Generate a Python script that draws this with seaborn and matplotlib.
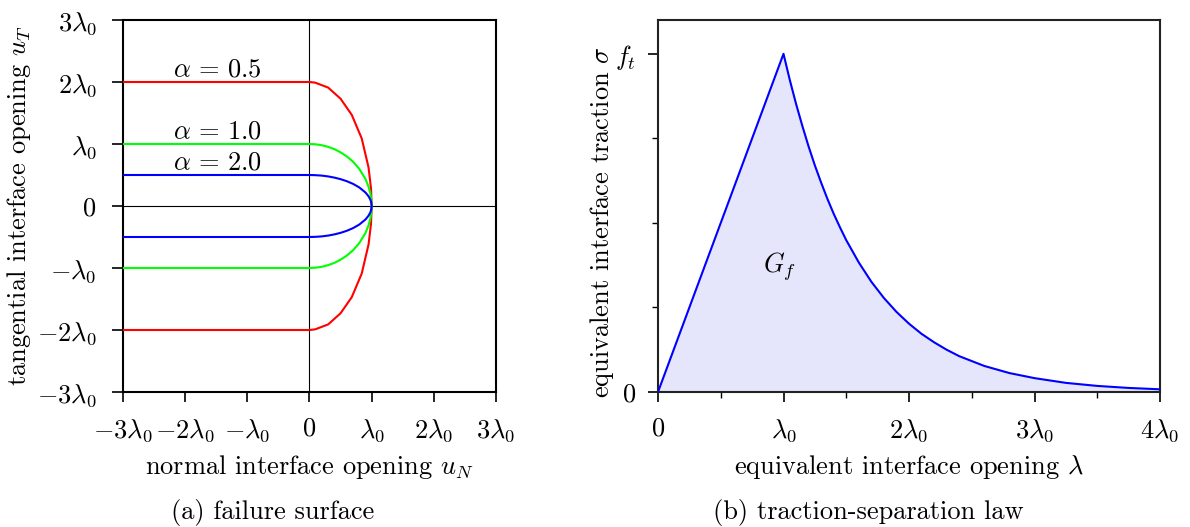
import numpy as np
import matplotlib
matplotlib.use("Agg")
import matplotlib.pyplot as plt
import seaborn as sns
from matplotlib.ticker import FixedLocator

# ---------------- data ----------------
# (a) failure surface: upper half of each curve for u_N >= 0, in units of lambda_0
alphas = ["0.5", "1.0", "2.0"]
colors = ["#ff0000", "#00ff00", "#0000ff"]
un_red = [0.0, 0.09, 0.30, 0.50, 0.68, 0.84, 0.95, 0.99, 1.0]
ut_red = [2.0, 1.99, 1.91, 1.73, 1.47, 1.09, 0.62, 0.28, 0.0]
un_green = [0.0, 0.1, 0.2, 0.3, 0.4, 0.5, 0.6, 0.7, 0.8, 0.9, 0.95, 0.98, 0.995, 1.0]
ut_green = [1.0, 0.995, 0.98, 0.954, 0.917, 0.866, 0.80, 0.714, 0.60, 0.436, 0.312, 0.199, 0.10, 0.0]
un_blue = [0.0, 0.1, 0.2, 0.3, 0.4, 0.5, 0.6, 0.7, 0.8, 0.9, 0.95, 0.98, 0.995, 1.0]
ut_blue = [0.5, 0.497, 0.49, 0.477, 0.458, 0.433, 0.40, 0.357, 0.30, 0.218, 0.156, 0.10, 0.05, 0.0]
un_left = -3.0
tick_vals = [-3, -2, -1, 0, 1, 2, 3]
tick_labels = [r"$-3\lambda_0$", r"$-2\lambda_0$", r"$-\lambda_0$", r"$0$",
               r"$\lambda_0$", r"$2\lambda_0$", r"$3\lambda_0$"]

# (b) traction-separation law (lambda in lambda_0, sigma in f_t)
lam_curve = [0.0, 1.0, 1.05, 1.1, 1.15, 1.2, 1.25, 1.3, 1.35, 1.4, 1.45, 1.5, 1.6, 1.7, 1.8,
             1.9, 2.0, 2.1, 2.2, 2.3, 2.4, 2.6, 2.8, 3.0, 3.25, 3.5, 3.75, 4.0]
sig_curve = [0.0, 1.0, 0.923, 0.852, 0.787, 0.726, 0.670, 0.619, 0.571, 0.527, 0.487, 0.449,
             0.383, 0.326, 0.278, 0.237, 0.202, 0.172, 0.147, 0.125, 0.106, 0.077, 0.056,
             0.041, 0.027, 0.018, 0.012, 0.008]
xt_vals = [0, 1, 2, 3, 4]
xt_labels = [r"$0$", r"$\lambda_0$", r"$2\lambda_0$", r"$3\lambda_0$", r"$4\lambda_0$"]

# ---------------- style ----------------
sns.set_theme(style="ticks")
FS = 19
plt.rcParams.update({
    "font.family": "serif",
    "font.serif": ["cmr10", "DejaVu Serif"],
    "mathtext.fontset": "cm",
    "axes.unicode_minus": False,
    "axes.formatter.use_mathtext": True,
    "font.size": FS,
    "text.color": "black",
    "axes.labelcolor": "black",
    "xtick.color": "black",
    "ytick.color": "black",
})

fig = plt.figure(figsize=(11.9, 5.27), dpi=100)
W, H = 1190, 527
def box(x0, y0, x1, y1):
    return [x0 / W, 1 - y1 / H, (x1 - x0) / W, (y1 - y0) / H]

ax1 = fig.add_axes(box(123, 20, 496, 392))
ax2 = fig.add_axes(box(658, 20, 1160, 392))

# ---------------- (a) ----------------
ax1.axhline(0, color="black", lw=0.8, zorder=1)
ax1.axvline(0, color="black", lw=0.8, zorder=1)
for a, c, un, ut in zip(alphas, colors, [un_red, un_green, un_blue], [ut_red, ut_green, ut_blue]):
    xs = [un_left] + un + un[::-1][1:] + [un_left]
    ys = [ut[0]] + ut + [-v for v in ut[::-1][1:]] + [-ut[0]]
    sns.lineplot(x=xs, y=ys, sort=False, estimator=None, color=c, lw=1.5, ax=ax1, zorder=3)
    ax1.text(-2.2, ut[0] + 0.09, r"$\alpha\,=\,%s$" % a, fontsize=FS, va="baseline", ha="left")

ax1.set_xlim(-3, 3)
ax1.set_ylim(-3, 3)
ax1.set_xticks(tick_vals)
ax1.set_xticklabels(tick_labels)
ax1.set_yticks(tick_vals)
ax1.set_yticklabels(tick_labels)
ax1.tick_params(axis="x", length=7, width=1.2, pad=11, labelsize=FS)
ax1.tick_params(axis="y", length=8, width=1.2, pad=11, labelsize=FS)
for s in ax1.spines.values():
    s.set_linewidth(1.5)
    s.set_color("black")
ax1.set_xlabel(r"normal interface opening $u_N$", fontsize=FS)
ax1.set_ylabel(r"tangential interface opening $u_T$", fontsize=FS)
ax1.xaxis.set_label_coords(0.5, (392 - 467) / 372)
ax1.xaxis.label.set_va("center")
ax1.yaxis.set_label_coords((19 - 123) / 373, 0.5)
ax1.yaxis.label.set_va("center")

# ---------------- (b) ----------------
ax2.fill_between(lam_curve, sig_curve, 0, color="#e5e5fb", lw=0, zorder=1)
sns.lineplot(x=lam_curve, y=sig_curve, sort=False, estimator=None, color="#0000ff", lw=1.5, ax=ax2, zorder=3)
ax2.text(0.97, 0.37, r"$G_f$", fontsize=FS, ha="center", va="center")
ax2.set_xlim(0, 4)
ax2.set_ylim(0, 1.1)
ax2.set_xticks(xt_vals)
ax2.set_xticklabels(xt_labels)
ax2.xaxis.set_minor_locator(FixedLocator([0.5, 1.5, 2.5, 3.5]))
ax2.set_yticks([0, 1])
ax2.set_yticklabels([r"$0$", r"$f_t$"])
ax2.yaxis.set_minor_locator(FixedLocator([0.25, 0.5, 0.75]))
ax2.tick_params(axis="both", which="major", length=7, width=1.2, labelsize=FS)
ax2.tick_params(axis="x", which="major", pad=11)
ax2.tick_params(axis="y", which="major", pad=9)
ax2.tick_params(axis="both", which="minor", length=4, width=1.0)
for s in ax2.spines.values():
    s.set_linewidth(1.5)
    s.set_color("#222222")
ax2.set_xlabel(r"equivalent interface opening $\lambda$", fontsize=FS)
ax2.set_ylabel(r"equivalent interface traction $\sigma$", fontsize=FS)
ax2.xaxis.set_label_coords(0.5, (392 - 467) / 372)
ax2.xaxis.label.set_va("center")
ax2.yaxis.set_label_coords((602 - 658) / 502, (392 - 222) / 372)
ax2.yaxis.label.set_va("center")

# captions
fig.text(273 / W, 1 - 512 / H, "(a) failure surface", fontsize=FS, ha="center", va="center")
fig.text(868 / W, 1 - 512 / H, "(b) traction-separation law", fontsize=FS, ha="center", va="center")

fig.savefig("out.png", dpi=100)
